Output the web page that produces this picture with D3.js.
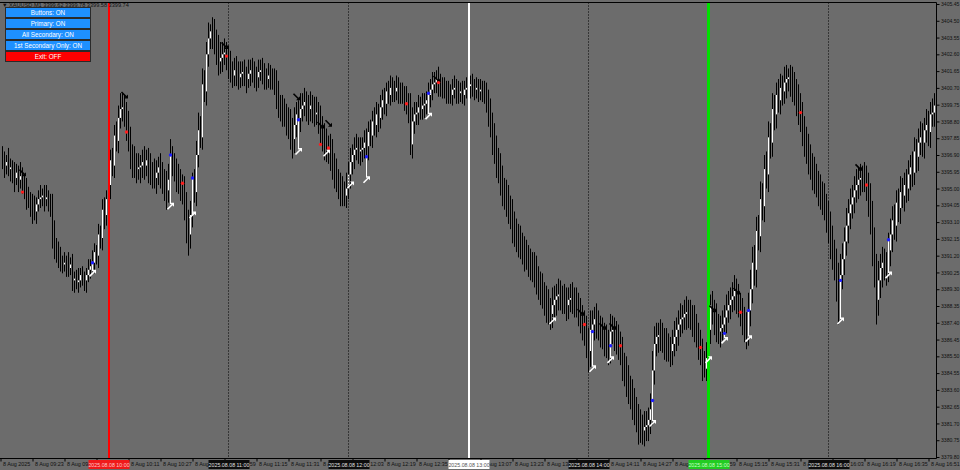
<!DOCTYPE html>
<html><head><meta charset="utf-8">
<script src="https://cdn.jsdelivr.net/npm/d3@7"></script>
<style>html,body{margin:0;padding:0;background:#6c6c6c;overflow:hidden}svg{display:block}</style>
</head><body><svg id="c" width="960" height="470"></svg>
<script>
// ---- DATA (XAUUSD M1, 8 Aug 2025, first bar 09:07, one bar per minute) ----
const firstOpen = 3396.8;
const closes = [
3396.6,3396.3,3396.5,3396.1,3396.2,3395.8,3395.6,3395.9,3395.5,3395.7,
3395.4,3394.9,3394.6,3394.4,3394.1,3393.8,3393.7,3394.1,3394.4,3394.5,
3394.6,3394.4,3394.5,3394.2,3394.1,3392.4,3391.6,3391.5,3391.1,3390.8,
3390.7,3390.8,3390.7,3390.5,3390.7,3389.8,3389.9,3389.7,3389.8,3390.1,
3389.9,3389.8,3390.1,3390.4,3390.6,3390.8,3391.4,3391.2,3392.4,3392.2,
3393.8,3393.5,3394.4,3395.2,3396.6,3396.3,3398.0,3397.7,3399.0,3399.5,
3399.6,3399.3,3398.6,3397.8,3396.9,3396.5,3396.3,3396.1,3396.2,3396.3,
3396.5,3396.3,3396.6,3396.2,3395.9,3395.8,3395.6,3395.9,3396.2,3395.8,
3395.5,3395.2,3394.9,3395.5,3396.6,3396.3,3396.1,3395.6,3395.4,3395.2,
3394.9,3394.1,3392.9,3392.4,3393.5,3395.2,3394.8,3396.9,3398.3,3397.9,
3400.9,3400.5,3402.6,3403.5,3403.9,3403.7,3403.3,3402.9,3402.2,3402.4,
3402.6,3402.7,3402.4,3402.0,3401.6,3401.4,3401.7,3401.6,3401.3,3401.5,
3401.6,3401.4,3401.2,3401.5,3401.7,3401.6,3401.4,3401.3,3401.6,3401.7,
3401.5,3401.3,3401.2,3401.4,3401.3,3401.2,3401.0,3400.3,3399.7,3399.6,
3399.3,3399.2,3398.9,3398.6,3398.2,3397.8,3398.6,3399.2,3399.0,3399.5,
3399.7,3399.9,3399.6,3399.5,3399.7,3399.5,3399.2,3399.3,3398.9,3398.4,
3397.9,3397.5,3397.2,3397.3,3396.9,3396.3,3395.9,3395.5,3395.2,3394.9,
3394.8,3394.6,3395.0,3395.8,3396.5,3396.9,3397.2,3397.3,3397.1,3397.2,
3397.3,3397.6,3397.4,3398.2,3398.0,3398.8,3398.6,3399.2,3399.0,3399.6,
3400.0,3399.8,3400.5,3400.3,3400.7,3400.6,3400.5,3400.7,3400.5,3400.4,
3400.3,3400.1,3399.8,3399.5,3397.5,3398.8,3399.2,3399.3,3399.6,3399.5,
3399.7,3399.8,3400.0,3400.3,3400.6,3400.9,3401.0,3401.2,3400.9,3400.8,
3400.7,3400.6,3400.5,3400.4,3400.3,3400.6,3400.7,3400.5,3400.4,3400.5,
3400.3,3400.6,3400.7,3400.8,3400.9,3400.7,3400.6,3400.7,3400.5,3400.6,
3400.5,3400.3,3400.0,3399.3,3398.6,3397.8,3397.2,3396.6,3396.1,3395.5,
3394.9,3394.6,3394.4,3393.9,3393.5,3392.9,3392.6,3392.2,3392.0,3391.8,
3391.5,3391.2,3391.1,3390.8,3390.7,3390.5,3390.4,3389.9,3389.5,3389.3,
3389.0,3388.7,3388.4,3388.1,3387.9,3388.4,3388.7,3388.9,3389.0,3388.8,
3388.7,3388.6,3388.4,3388.7,3388.8,3388.7,3388.6,3388.4,3388.0,3387.7,
3387.3,3386.9,3386.4,3385.8,3387.0,3387.3,3387.6,3387.3,3387.1,3386.9,
3386.7,3386.4,3386.2,3385.9,3386.9,3387.0,3386.7,3386.4,3386.2,3385.8,
3385.0,3384.6,3384.2,3383.7,3383.3,3382.9,3382.5,3382.0,3381.6,3381.5,
3381.3,3381.5,3381.6,3381.9,3382.5,3384.7,3386.2,3386.6,3386.7,3386.6,
3386.4,3386.2,3386.0,3385.9,3385.8,3386.2,3386.6,3387.0,3387.3,3387.6,
3387.7,3387.9,3388.0,3387.9,3387.7,3387.5,3387.1,3386.7,3386.2,3385.8,
3385.0,3384.8,3385.4,3387.0,3388.4,3388.0,3387.6,3387.1,3386.9,3387.1,
3387.3,3387.7,3388.1,3388.4,3388.7,3388.9,3389.2,3388.8,3388.4,3388.0,
3387.6,3387.1,3386.9,3388.1,3389.3,3390.8,3390.4,3392.6,3392.3,3394.4,
3394.0,3396.1,3395.8,3397.9,3397.6,3399.5,3399.2,3400.3,3400.0,3400.7,
3400.5,3401.0,3401.2,3401.3,3401.0,3400.8,3400.5,3400.0,3399.6,3399.0,
3398.3,3397.8,3397.2,3396.7,3396.3,3395.9,3395.6,3395.3,3394.9,3394.6,
3394.4,3394.0,3393.5,3392.8,3392.1,3391.4,3390.7,3389.8,3389.0,3390.1,
3391.0,3392.0,3392.9,3393.6,3394.1,3394.5,3394.9,3395.2,3395.5,3395.6,
3395.6,3395.5,3395.2,3394.4,3393.5,3391.8,3390.4,3388.7,3389.8,3390.5,
3390.8,3390.7,3390.5,3391.5,3392.4,3393.2,3392.9,3394.2,3393.9,3394.8,
3394.6,3395.2,3395.0,3395.8,3396.2,3395.9,3397.1,3396.8,3397.6,3397.9,
3397.6,3398.3,3398.6,3398.2,3399.2,3399.3,3399.7
];
const wickUp = [
0.6,0.5,0.4,0.8,0.5,0.4,0.7,0.5,0.4,0.8,
0.5,0.4,0.7,0.5,0.4,0.6,0.8,0.4,0.5,0.7,
0.4,0.6,0.7,0.4,0.5,0.6,0.8,0.6,0.5,0.6,
0.4,0.6,0.4,0.7,0.4,0.6,0.4,0.5,0.7,0.4,
0.5,0.4,0.4,0.6,0.4,0.7,0.5,0.4,0.6,0.5,
0.6,0.7,0.5,0.8,0.6,0.7,0.6,0.8,0.7,0.9,
0.8,0.7,0.6,0.8,0.7,0.6,0.9,0.7,0.8,0.6,
0.7,0.9,0.6,0.7,0.8,0.6,0.9,0.7,0.6,0.8,
0.7,0.6,0.8,0.9,1.2,0.8,0.7,0.6,0.8,0.7,
0.6,0.8,0.7,0.9,0.8,0.7,0.9,0.8,1.0,0.8,
0.9,0.8,0.7,0.9,0.4,0.8,0.9,0.7,0.8,0.9,
0.7,0.8,0.6,0.7,0.8,0.6,0.7,0.8,0.6,0.7,
0.6,0.7,0.5,0.8,0.6,0.7,0.6,0.5,0.7,0.6,
0.7,0.6,0.5,0.7,0.6,0.5,0.6,0.7,0.8,0.6,
0.7,0.8,0.6,0.7,0.9,0.8,1.0,0.7,0.8,0.9,
0.7,0.8,0.6,0.7,0.8,0.6,0.7,0.9,0.6,0.8,
0.7,0.8,0.9,0.7,0.8,0.9,0.7,0.8,0.6,0.7,
0.8,0.6,0.9,0.7,0.8,0.6,0.7,0.8,0.6,0.7,
0.6,0.7,0.8,0.6,0.7,0.6,0.8,0.7,0.6,0.7,
0.6,0.7,0.5,0.6,0.7,0.6,0.5,0.7,0.6,0.5,
0.6,0.5,0.7,0.6,0.9,0.8,0.7,0.6,0.7,0.6,
0.7,0.6,0.5,0.7,0.6,0.7,0.6,0.5,0.7,0.6,
0.5,0.6,0.5,0.6,0.5,0.6,0.7,0.5,0.6,0.5,
0.6,0.5,0.6,0.7,0.5,0.6,0.5,0.6,0.5,0.6,
0.5,0.6,0.7,0.6,0.8,0.7,0.9,0.8,0.7,0.9,
0.8,0.7,0.9,0.8,0.7,0.9,0.8,0.7,0.8,0.9,
0.7,0.8,0.9,0.7,0.8,0.7,0.9,0.8,0.7,0.8,
0.9,0.7,0.8,0.9,0.7,1.0,0.8,0.7,0.9,0.8,
0.7,0.9,0.8,0.7,0.8,0.9,0.7,0.8,0.7,0.8,
0.7,0.8,0.9,0.7,1.1,0.8,0.7,0.9,0.8,0.7,
0.8,0.7,0.9,0.8,1.0,0.8,0.7,0.8,0.9,0.7,
0.8,0.7,0.9,0.8,0.7,0.9,0.8,0.7,0.8,0.9,
0.7,0.9,0.8,0.7,0.9,1.1,1.0,0.8,0.7,0.9,
0.8,0.7,0.9,0.8,0.7,0.8,0.9,0.7,0.8,0.9,
0.7,0.8,0.9,0.7,0.8,0.7,0.9,0.8,0.7,0.8,
0.7,0.8,0.9,1.0,0.6,0.8,0.7,0.9,0.8,0.7,
0.8,0.7,0.9,0.8,0.7,0.8,0.9,0.7,0.8,0.7,
0.8,0.7,0.9,1.0,1.1,0.9,1.0,0.8,0.9,1.0,
0.9,0.8,1.0,0.9,0.8,0.9,0.8,0.7,0.9,0.8,
0.7,0.9,0.8,0.5,0.7,0.9,0.8,0.7,0.9,0.8,
0.9,0.8,0.7,0.9,0.8,0.7,0.9,0.8,0.7,0.9,
0.8,0.9,0.7,0.8,0.9,0.8,0.7,0.9,1.0,1.2,
0.9,0.8,1.0,0.8,0.9,0.7,0.8,0.9,0.7,0.8,
0.7,0.9,0.8,0.7,0.9,0.8,1.0,0.9,1.1,0.8,
0.9,0.8,0.7,1.0,0.9,0.8,0.9,0.7,0.8,0.9,
0.8,0.7,0.9,0.8,0.7,0.9,0.8,0.7,0.8,0.9,
0.8,0.7,0.9,0.8,0.7,0.8,0.7
];
const wickDn = [
0.5,0.7,0.5,0.4,0.7,0.5,0.8,0.4,0.7,0.5,
0.7,0.5,0.8,0.5,0.7,0.8,0.5,0.7,0.4,0.5,
0.5,0.7,0.4,0.5,0.7,0.8,0.6,0.7,0.6,0.5,
0.5,0.4,0.7,0.5,0.4,0.6,0.7,0.4,0.6,0.4,
0.4,0.6,0.7,0.4,0.5,0.4,0.6,0.5,0.7,0.6,
0.7,0.8,0.6,0.7,0.8,0.6,0.7,0.6,0.7,0.6,
0.7,0.8,0.9,0.7,0.8,0.9,0.7,0.8,0.6,0.9,
0.7,0.8,0.6,0.9,0.7,0.8,0.6,0.9,0.7,0.8,
0.8,0.9,1.1,0.7,0.8,0.6,0.7,0.8,0.7,0.9,
0.8,0.9,1.0,1.2,0.8,0.7,0.6,0.8,0.7,0.6,
0.7,0.6,0.8,0.7,0.6,0.8,0.7,0.9,0.8,0.7,
0.8,0.6,0.7,0.8,0.6,0.7,0.6,0.8,0.7,0.6,
0.7,0.6,0.8,0.5,0.7,0.6,0.7,0.8,0.6,0.5,
0.6,0.7,0.6,0.5,0.7,0.6,0.7,0.8,0.7,0.8,
0.8,0.7,0.9,0.8,1.0,1.1,0.8,0.7,0.9,0.8,
0.7,0.6,0.8,0.9,0.7,0.8,0.7,0.6,0.8,0.9,
0.8,0.9,0.7,0.8,0.9,0.8,0.9,0.7,0.8,0.9,
0.8,0.6,0.7,0.6,0.8,0.7,0.8,0.6,0.7,0.8,
0.7,0.6,0.7,0.8,0.6,0.7,0.6,0.7,0.8,0.6,
0.7,0.6,0.7,0.5,0.6,0.7,0.6,0.5,0.7,0.6,
0.5,0.7,0.6,0.8,0.6,0.8,0.7,0.6,0.7,0.6,
0.6,0.7,0.6,0.5,0.7,0.6,0.5,0.6,0.7,0.6,
0.6,0.5,0.7,0.6,0.5,0.6,0.5,0.7,0.6,0.5,
0.5,0.6,0.5,0.6,0.7,0.5,0.6,0.5,0.6,0.5,
0.6,0.5,0.7,0.8,0.7,0.9,0.8,1.0,0.8,0.9,
0.9,0.8,1.0,0.9,0.8,1.0,0.9,0.8,0.9,0.8,
0.8,0.9,0.7,0.8,0.9,0.8,1.0,0.9,0.8,0.9,
0.8,0.9,1.0,0.8,0.9,0.8,0.7,0.9,0.8,0.7,
0.8,0.7,0.9,0.8,0.7,0.8,0.9,0.7,0.8,0.9,
0.9,0.8,1.0,1.2,0.9,0.8,0.9,0.8,0.7,0.9,
0.8,0.9,0.8,0.9,0.8,0.7,0.9,0.8,0.9,0.8,
0.9,0.8,1.0,0.9,0.8,1.0,0.9,0.8,1.1,0.9,
0.8,0.9,0.8,0.9,0.8,0.9,0.8,0.7,0.9,0.8,
0.7,0.9,0.8,0.7,0.9,0.8,0.7,0.8,0.9,0.7,
0.8,0.7,0.9,0.8,0.7,0.9,0.8,0.7,0.9,0.8,
0.9,0.5,0.7,0.9,0.8,0.7,0.9,0.8,0.7,0.9,
0.7,0.8,0.9,0.7,0.8,0.7,0.8,0.9,0.7,0.8,
0.9,0.8,1.0,0.8,0.9,0.8,0.9,1.0,0.8,0.9,
0.8,0.9,0.8,1.0,0.9,0.8,0.9,0.8,0.7,0.8,
0.8,0.7,0.9,0.7,0.8,0.9,0.8,0.9,1.0,0.8,
0.9,1.0,0.8,0.9,0.8,1.0,0.9,0.8,0.9,0.8,
0.9,0.8,1.0,0.9,1.1,1.0,0.9,1.2,1.7,0.9,
0.8,0.9,0.8,1.0,0.9,0.8,0.9,0.7,0.8,0.9,
0.8,0.7,0.9,1.0,1.1,1.2,1.0,1.4,0.9,1.0,
1.1,0.9,1.0,0.8,0.9,1.0,0.8,0.9,0.8,0.9,
0.7,0.9,0.8,0.7,0.9,0.8,0.7,0.9,0.8,0.7,
0.8,0.9,0.7,0.8,0.9,0.7,0.8
];
// signal markers: [bar index, price]
const sellArrows = [[10,3395.9],[61,3400.3],[111,3403.1],[147,3400.2],[159,3398.6],[163,3398.7],[217,3401.2],[289,3388.0],[300,3387.2],[305,3387.2],[355,3388.2],[367,3389.2],[428,3396.2]];
const redDots = [[10,3394.8],[62,3398.2],[90,3395.3],[112,3402.5],[159,3397.5],[163,3397.3],[202,3399.8],[218,3401.0],[291,3387.3],[309,3386.1],[349,3386.0],[369,3388.0],[399,3399.3],[432,3395.2]];
// buy signals with entry dot: [bar index, dot price, arrow price]
const buySignals = [[45,3390.8,3390.2],[84,3396.9,3394.0],[95,3395.6,3393.5],[148,3398.9,3397.1],[182,3396.8,3395.5],[213,3400.4,3399.1],[295,3386.9,3384.8],[304,3386.1,3385.3],[325,3383.0,3381.7],[361,3386.8,3386.4],[373,3388.1,3386.5],[419,3389.8,3387.5],[443,3392.1,3390.1]];
const buyArrowsOnly = [[162,3397.0],[174,3395.2],[275,3387.5],[353,3385.3]];
// axes
const priceTicks = [3405.45,3404.50,3403.55,3402.60,3401.65,3400.70,3399.75,3398.80,3397.85,3396.90,3395.95,3395.00,3394.05,3393.10,3392.15,3391.20,3390.25,3389.30,3388.35,3387.40,3386.45,3385.50,3384.55,3383.60,3382.65,3381.70,3380.75,3379.80];
const timeTickIdx = [0,16,32,48,64,80,96,112,128,144,160,176,192,208,224,240,256,272,288,304,320,336,352,368,384,400,416,432,448,464];
const timeTickText = ["8 Aug 2025","8 Aug 09:23","8 Aug 09:39","8 Aug 09:55","8 Aug 10:11","8 Aug 10:27","8 Aug 10:43","8 Aug 10:59","8 Aug 11:15","8 Aug 11:31","8 Aug 11:47","8 Aug 12:03","8 Aug 12:19","8 Aug 12:35","8 Aug 12:51","8 Aug 13:07","8 Aug 13:23","8 Aug 13:39","8 Aug 13:55","8 Aug 14:11","8 Aug 14:27","8 Aug 14:43","8 Aug 14:59","8 Aug 15:15","8 Aug 15:31","8 Aug 15:47","8 Aug 16:03","8 Aug 16:19","8 Aug 16:35","8 Aug 16:51"];
const lineIdx = [53,113,173,233,293,353,413];
const lineText = ["2025.08.08 10:00","2025.08.08 11:00","2025.08.08 12:00","2025.08.08 13:00","2025.08.08 14:00","2025.08.08 15:00","2025.08.08 16:00"];
const lineKind = ["red","dot","dot","white","dot","green","dot"];
const buttonText = ["Buttons: ON","Primary: ON","All Secondary: ON","1st Secondary Only: ON","Exit: OFF"];
const buttonOn = [true,true,true,true,false];
const headerText = "\u25BC XAUUSD,M1  3399.62 3399.78 3399.58 3399.74";

// ---- DRAW ----
const font = "'Liberation Sans', Arial, sans-serif";
const svg = d3.select("#c");
const plotR = 936.5, plotT = 2.5, plotB = 458.5;
const x = d3.scaleLinear().domain([0, closes.length - 1]).range([2.5, 934.5]);
const y = d3.scaleLinear().domain([3379.80, 3405.45]).range([457, 4]);

svg.append("rect").attr("width",960).attr("height",470).attr("fill","#6c6c6c");

const bars = closes.map((c,i)=>{
  const o = i ? closes[i-1] : firstOpen;
  return {i, o, c, h: Math.max(o,c)+wickUp[i], l: Math.min(o,c)-wickDn[i]};
});

const plot = svg.append("g");
plot.selectAll("line.w").data(bars).join("line")
  .attr("x1",d=>x(d.i)).attr("x2",d=>x(d.i))
  .attr("y1",d=>y(d.h)).attr("y2",d=>y(d.l))
  .attr("stroke","#000").attr("stroke-width",1);
plot.selectAll("line.b").data(bars).join("line")
  .attr("x1",d=>x(d.i)).attr("x2",d=>x(d.i))
  .attr("y1",d=>y(Math.max(d.o,d.c))).attr("y2",d=>y(Math.min(d.o,d.c))+ (d.o===d.c?1:0))
  .attr("stroke",d=>d.c>d.o?"#ffffff":"#000").attr("stroke-width",1);

// vertical time lines
const lineStyle = {
  red:{stroke:"#ff0000",w:2,dash:null},
  white:{stroke:"#ffffff",w:2,dash:null},
  green:{stroke:"#00e000",w:3,dash:null},
  dot:{stroke:"#000000",w:1,dash:"1,2"}
};
lineIdx.forEach((li,k)=>{
  const s = lineStyle[lineKind[k]];
  const xx = Math.round(x(li)) - (s.w%2? 0.5:0);
  svg.append("line").attr("x1",xx).attr("x2",xx).attr("y1",plotT).attr("y2",plotB)
    .attr("stroke",s.stroke).attr("stroke-width",s.w).attr("stroke-dasharray",s.dash);
});

// white buy-signal links
svg.selectAll("line.link").data(buySignals).join("line")
  .attr("x1",d=>x(d[0])).attr("x2",d=>x(d[0]))
  .attr("y1",d=>y(d[1])).attr("y2",d=>y(d[2])-2)
  .attr("stroke","#fff").attr("stroke-width",1);

function arrow(g, cx, cy, up, color){
  if(up){
    g.append("line").attr("x1",cx-3).attr("y1",cy+3).attr("x2",cx+2).attr("y2",cy-2)
      .attr("stroke",color).attr("stroke-width",1.6);
    g.append("path").attr("d",`M${cx+3.5},${cy-3.5}L${cx-0.5},${cy-3.5}L${cx+3.5},${cy+0.5}Z`).attr("fill",color);
  } else {
    g.append("line").attr("x1",cx-3).attr("y1",cy-3).attr("x2",cx+2).attr("y2",cy+2)
      .attr("stroke",color).attr("stroke-width",1.6);
    g.append("path").attr("d",`M${cx+3.5},${cy+3.5}L${cx-0.5},${cy+3.5}L${cx+3.5},${cy-0.5}Z`).attr("fill",color);
  }
}
const mk = svg.append("g");
sellArrows.forEach(d=>arrow(mk, x(d[0]), y(d[1]), false, "#000"));
buySignals.forEach(d=>arrow(mk, x(d[0]), y(d[2]), true, "#fff"));
buyArrowsOnly.forEach(d=>arrow(mk, x(d[0]), y(d[1]), true, "#fff"));
mk.selectAll("circle.r").data(redDots).join("circle")
  .attr("cx",d=>x(d[0])).attr("cy",d=>y(d[1])).attr("r",1.7).attr("fill","#ff1e1e");
mk.selectAll("circle.bl").data(buySignals).join("circle")
  .attr("cx",d=>x(d[0])).attr("cy",d=>y(d[1])).attr("r",1.7).attr("fill","#1e1eff");

// frame
svg.append("line").attr("x1",0).attr("x2",plotR).attr("y1",plotT).attr("y2",plotT).attr("stroke","#000");
svg.append("line").attr("x1",0).attr("x2",plotR).attr("y1",plotB).attr("y2",plotB).attr("stroke","#000");

// price axis
const ya = svg.append("g").attr("transform",`translate(${plotR},0)`)
  .call(d3.axisRight(y).tickValues(priceTicks).tickFormat(d3.format(".2f")).tickSize(3).tickSizeOuter(0).tickPadding(1.5));
ya.select(".domain").attr("stroke","#000").attr("d",`M0,${plotT}V${plotB}`);
ya.selectAll(".tick line").attr("stroke","#000");
ya.selectAll(".tick text").attr("fill","#111").style("font-family",font).style("font-size","5.1px");

// time axis
const xa = svg.append("g").attr("transform",`translate(0,${plotB})`)
  .call(d3.axisBottom(x).tickValues(timeTickIdx).tickFormat((d,k)=>timeTickText[k]).tickSize(3).tickSizeOuter(0));
xa.select(".domain").remove();
xa.selectAll(".tick").attr("transform",d=>`translate(${x(d)-1.5},0)`);
xa.selectAll(".tick line").attr("stroke","#000");
xa.selectAll(".tick text").attr("fill","#111").attr("text-anchor","start").attr("x",2).attr("y",4)
  .style("font-family",font).style("font-size","5.4px");

// highlighted time boxes
const boxStyle = {red:{bg:"#f01a1a",fg:"#ffc8c8"},white:{bg:"#ffffff",fg:"#555"},green:{bg:"#22cc22",fg:"#c8ffc8"},dot:{bg:"#0d0d0d",fg:"#e0e0e0"}};
lineIdx.forEach((li,k)=>{
  const s = boxStyle[lineKind[k]], cx = Math.round(x(li));
  svg.append("rect").attr("x",cx-20.5).attr("y",460).attr("width",41).attr("height",9).attr("fill",s.bg);
  svg.append("text").attr("x",cx).attr("y",466.6).attr("text-anchor","middle").attr("fill",s.fg)
    .style("font-family",font).style("font-size","5.3px").text(lineText[k]);
});

// header and buttons
svg.append("text").attr("x",2).attr("y",7).attr("fill","#111").style("font-family",font).style("font-size","5.6px").text(headerText);
buttonText.forEach((t,k)=>{
  const by = 7 + k*11;
  svg.append("rect").attr("x",5.5).attr("y",by+0.5).attr("width",85).attr("height",10)
    .attr("fill",buttonOn[k]?"#1e90ff":"#ff0000").attr("stroke","#2a2a2a").attr("stroke-width",1);
  svg.append("text").attr("x",48).attr("y",by+7.8).attr("text-anchor","middle").attr("fill","#fff")
    .style("font-family",font).style("font-size","6.3px").text(t);
});
</script></body></html>
